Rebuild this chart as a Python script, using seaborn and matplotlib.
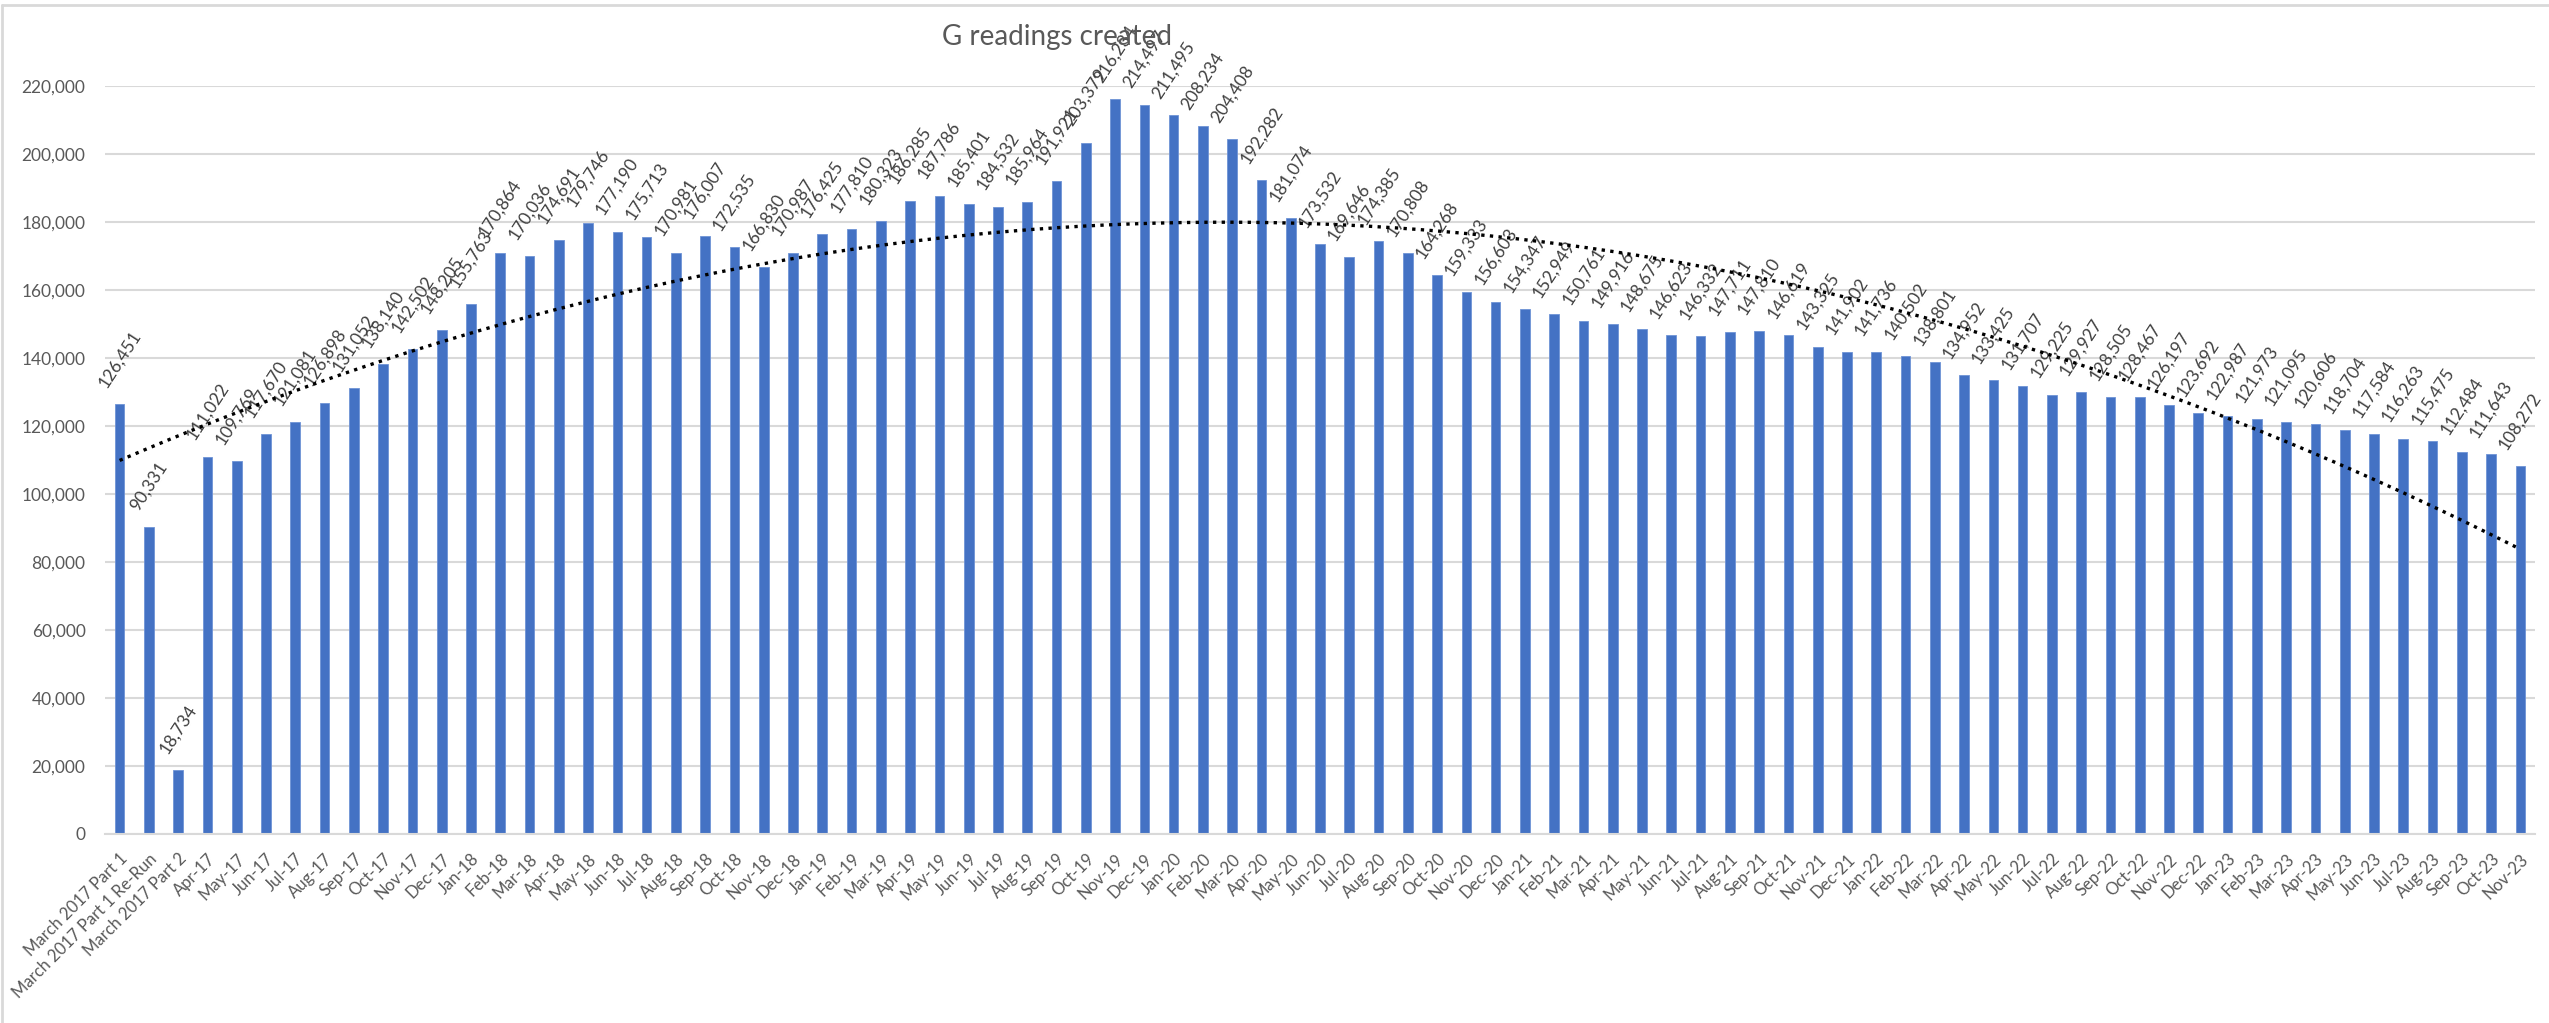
import numpy as np
import pandas as pd
import matplotlib
matplotlib.use("Agg")
import matplotlib.pyplot as plt
import seaborn as sns
from matplotlib.lines import Line2D

categories = [
    "March 2017 Part 1", "March 2017 Part 1 Re-Run", "March 2017 Part 2",
    "Apr-17", "May-17", "Jun-17", "Jul-17", "Aug-17", "Sep-17", "Oct-17", "Nov-17", "Dec-17",
    "Jan-18", "Feb-18", "Mar-18", "Apr-18", "May-18", "Jun-18", "Jul-18", "Aug-18", "Sep-18", "Oct-18", "Nov-18", "Dec-18",
    "Jan-19", "Feb-19", "Mar-19", "Apr-19", "May-19", "Jun-19", "Jul-19", "Aug-19", "Sep-19", "Oct-19", "Nov-19", "Dec-19",
    "Jan-20", "Feb-20", "Mar-20", "Apr-20", "May-20", "Jun-20", "Jul-20", "Aug-20", "Sep-20", "Oct-20", "Nov-20", "Dec-20",
    "Jan-21", "Feb-21", "Mar-21", "Apr-21", "May-21", "Jun-21", "Jul-21", "Aug-21", "Sep-21", "Oct-21", "Nov-21", "Dec-21",
    "Jan-22", "Feb-22", "Mar-22", "Apr-22", "May-22", "Jun-22", "Jul-22", "Aug-22", "Sep-22", "Oct-22", "Nov-22", "Dec-22",
    "Jan-23", "Feb-23", "Mar-23", "Apr-23", "May-23", "Jun-23", "Jul-23", "Aug-23", "Sep-23", "Oct-23", "Nov-23",
]

readings = [
    126451, 90331, 18734,
    111022, 109769, 117670, 121081, 126898, 131052, 138140, 142502, 148205,
    155763, 170864, 170036, 174691, 179746, 177190, 175713, 170981, 176007, 172535, 166830, 170987,
    176425, 177810, 180323, 186285, 187786, 185401, 184532, 185964, 191921, 203379, 216234, 214497,
    211495, 208234, 204408, 192282, 181074, 173532, 169646, 174385, 170808, 164268, 159333, 156603,
    154347, 152949, 150761, 149916, 148675, 146623, 146332, 147711, 147810, 146619, 143325, 141902,
    141736, 140502, 138801, 134952, 133425, 131707, 129225, 129927, 128505, 128467, 126197, 123692,
    122987, 121973, 121095, 120606, 118704, 117584, 116263, 115475, 112484, 111643, 108272,
]

y_ticks = list(range(0, 220001, 20000))
title = "G readings created"

df = pd.DataFrame({"month": categories, "readings": readings})

sns.set_theme(style="white")
plt.rcParams["font.family"] = ["Lato", "DejaVu Sans"]

W, H = 2549, 1023
fig = plt.figure(figsize=(W / 100, H / 100), dpi=100)
ax = fig.add_axes([105 / W, 1 - 834 / H, (2535 - 105) / W, (834 - 86) / H])

sns.barplot(data=df, x="month", y="readings", color="#4472C4", width=0.33,
            saturation=1, ax=ax, zorder=2, edgecolor="#6E93D6", linewidth=0.6)

n = len(readings)
ax.set_xlim(-0.5, n - 0.5)
ax.set_ylim(0, 220000)
ax.set_yticks(y_ticks)
ax.set_yticklabels([f"{v:,}" for v in y_ticks], fontsize=12.5, color="#595959")
ax.set_xticks(range(n))
ax.set_xticklabels(categories, rotation=45, ha="right", va="top",
                   rotation_mode="anchor", fontsize=12, color="#595959")
ax.tick_params(axis="y", length=0, pad=14)
ax.tick_params(axis="x", length=0, pad=12)
ax.set_xlabel("")
ax.set_ylabel("")
ax.grid(axis="y", color="#D9D9D9", linewidth=1.5, zorder=0)
ax.set_axisbelow(True)
for s in ["top", "right", "left"]:
    ax.spines[s].set_visible(False)
ax.spines["bottom"].set_color("#D9D9D9")
ax.spines["bottom"].set_linewidth(1.5)

# data labels
for i, v in enumerate(readings):
    ax.annotate(f"{v:,}", xy=(i, v), xytext=(0, 10), textcoords="offset points",
                rotation=57, ha="center", va="bottom", fontsize=12.5,
                color="#404040", zorder=4, annotation_clip=False)

# polynomial trendline (order 2, fitted on the series)
xs = np.arange(1, n + 1)
coef = np.polyfit(xs, np.array(readings, dtype=float), 2)
xx = np.linspace(1, n, 400)
ax.plot(xx - 1, np.polyval(coef, xx), color="black", linestyle=(0, (1, 1.6)),
        linewidth=2.4, zorder=5)

fig.text(1057 / W, 1 - 37 / H, title, ha="center", va="center",
         fontsize=20, color="#595959")

# chart-area border
fig.add_artist(Line2D([2 / W, 1], [1 - 5 / H, 1 - 5 / H], transform=fig.transFigure,
                      color="#D9D9D9", linewidth=2))
fig.add_artist(Line2D([2 / W, 2 / W], [0, 1 - 5 / H], transform=fig.transFigure,
                      color="#D9D9D9", linewidth=2))

fig.savefig("out.png", dpi=100, facecolor="white")
